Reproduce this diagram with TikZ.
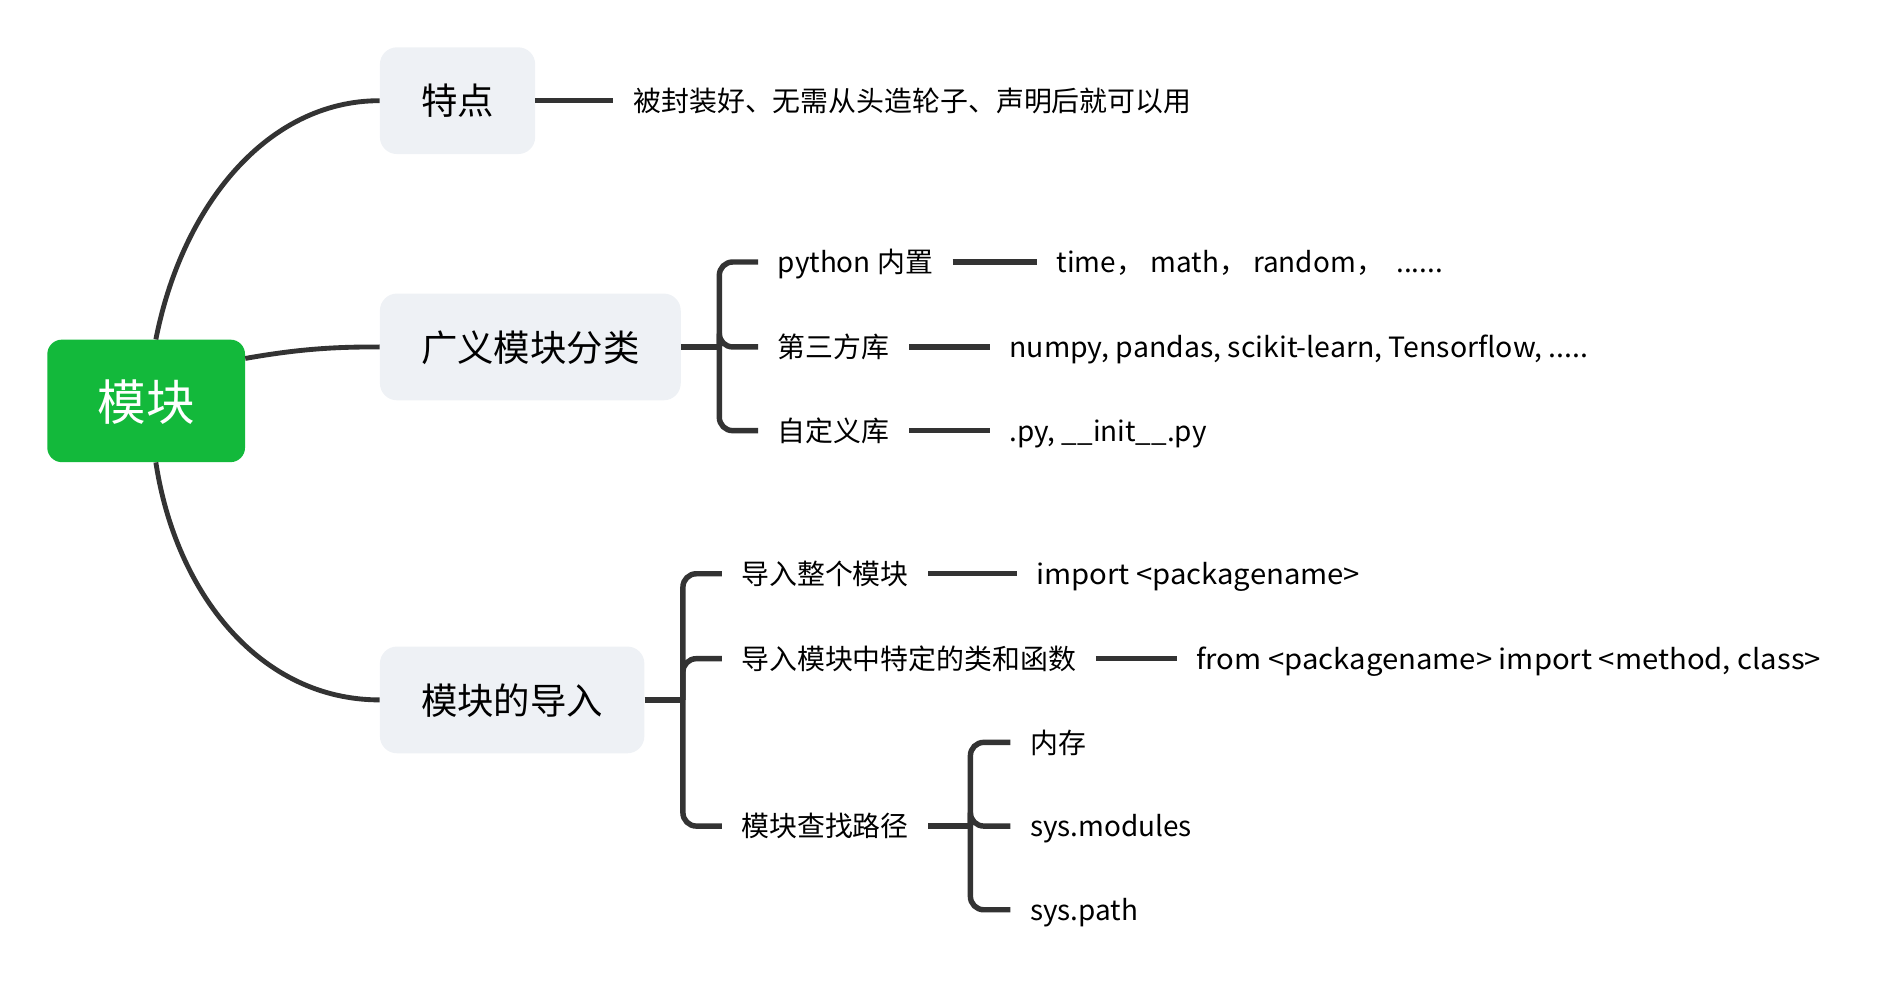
\documentclass[tikz,border=0pt]{standalone}
\usepackage{fontspec}
\setmainfont{Noto Sans CJK SC}
\newfontfamily\wideLatin[FakeStretch=1.05]{Noto Sans CJK SC}
\newfontfamily\wideLatinB[FakeStretch=1.02]{Noto Sans CJK SC}
\definecolor{lc}{HTML}{333333}
\definecolor{rootg}{HTML}{13B93B}
\definecolor{boxg}{HTML}{EEF1F5}
\begin{document}
\begin{tikzpicture}[x=1pt,y=-1pt,
  conn/.style={draw=lc, line width=4.5pt},
  curve/.style={draw=lc, line width=4pt},
  rootbox/.style={fill=rootg, rounded corners=12pt, minimum width=163pt, minimum height=101pt, text=white, font=\fontsize{40}{40}\selectfont, text height=34pt, text depth=2pt},
  topic/.style={fill=boxg, rounded corners=14pt, minimum height=88pt, inner xsep=34pt, anchor=west, font=\fontsize{30}{30}\selectfont, text height=25pt, text depth=1.5pt},
  leaf/.style={anchor=west, inner xsep=16pt, inner ysep=0pt, font=\fontsize{23}{23}\selectfont, text height=18.8pt, text depth=1.2pt},
  desc/.style={leaf, inner xsep=17pt},
  br/.style={conn, rounded corners=11pt}
]
\useasboundingbox (0,0) rectangle (1568,819);
% root and topics
\node[rootbox] (root) at (120.5,330.5) {模块};
\node[topic] (t1) at (313,83) {特点};
\node[topic] (t2) at (313,286) {广义模块分类};
\node[topic] (t3) at (313,577) {模块的导入};
% curves from root
\draw[curve] ([xshift=8pt]root.north) .. controls (150,170) and (220,83) .. (t1.west);
\draw[curve] ([yshift=35pt]root.east) .. controls (250,287) and (280,286) .. (t2.west);
\draw[curve] ([xshift=8pt]root.south) .. controls (145,490) and (215,577) .. (t3.west);
% topic 1
\node[desc] (d1) at (505,83) {被封装好、无需从头造轮子、声明后就可以用};
\draw[conn] (t1.east) -- (d1.west);
% topic 2
\coordinate (b2) at (593,286);
\node[leaf] (c21) at (625,216) {python 内置};
\node[leaf] (c22) at (625,286) {第三方库};
\node[leaf] (c23) at (625,355) {自定义库};
\draw[conn] (t2.east) -- (b2);
\draw[br] (b2) |- (c21.west);
\draw[br] (b2) |- (c22.west);
\draw[br] (b2) |- (c23.west);
\node[leaf] (e21) at (855,216) {time，\ math，\ random，\ \ ......};
\node[leaf] (e22) at (816,286) {\wideLatinB numpy, pandas, scikit-learn, Tensorflow, .....};
\node[leaf] (e23) at (816,355) {.py, \_\_init\_\_.py};
\draw[conn] (c21.east) -- (e21.west);
\draw[conn] (c22.east) -- (e22.west);
\draw[conn] (c23.east) -- (e23.west);
% topic 3
\coordinate (b3) at (563,577);
\node[leaf] (c31) at (595,473) {导入整个模块};
\node[leaf] (c32) at (595,543) {导入模块中特定的类和函数};
\node[leaf] (c33) at (595,681) {模块查找路径};
\draw[conn] (t3.east) -- (b3);
\draw[br] (b3) |- (c31.west);
\draw[br] (b3) |- (c32.west);
\draw[br] (b3) |- (c33.west);
\node[leaf] (e31) at (838,473) {\wideLatin import <packagename>};
\node[leaf] (e32) at (970,543) {\wideLatin from <packagename> import <method, class>};
\draw[conn] (c31.east) -- (e31.west);
\draw[conn] (c32.east) -- (e32.west);
% path bracket
\coordinate (b4) at (800,681);
\node[leaf] (p1) at (833,612) {内存};
\node[leaf] (p2) at (833,681) {sys.modules};
\node[leaf] (p3) at (833,750) {sys.path};
\draw[conn] (c33.east) -- (b4);
\draw[br] (b4) |- (p1.west);
\draw[br] (b4) |- (p2.west);
\draw[br] (b4) |- (p3.west);
\end{tikzpicture}
\end{document}
